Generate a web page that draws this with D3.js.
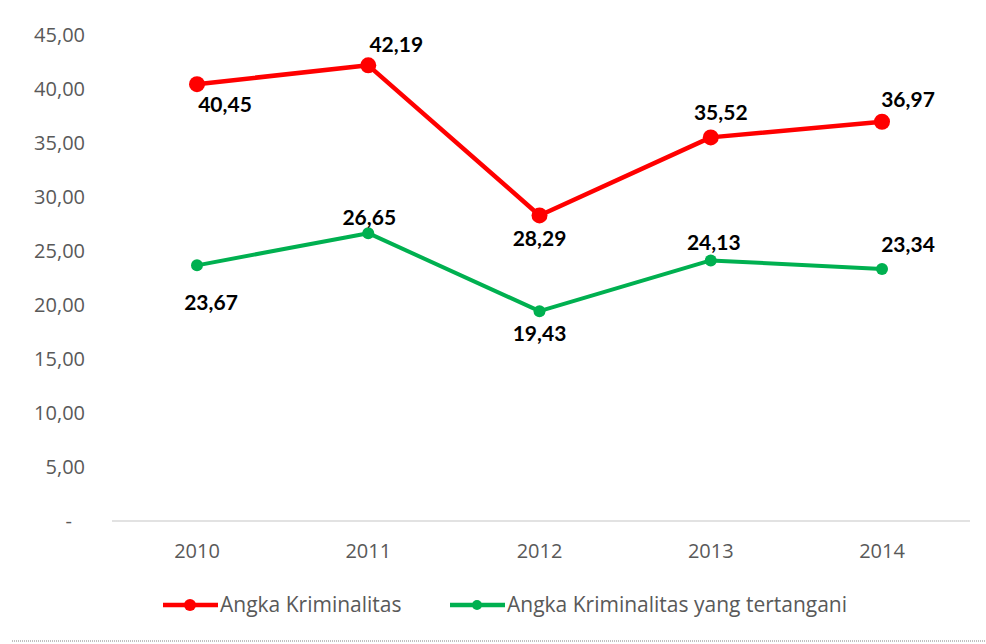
<!DOCTYPE html>
<html>
<head>
<meta charset="utf-8">
<script src="https://cdn.jsdelivr.net/npm/d3@7"></script>
<style>
  body { margin: 0; background: #fff; }
  text { font-family: "Open Sans", sans-serif; }
</style>
</head>
<body>
<div id="chart"></div>
<script>
var years = ["2010", "2011", "2012", "2013", "2014"];
var kriminalitas = [40.45, 42.19, 28.29, 35.52, 36.97];
var tertangani = [23.67, 26.65, 19.43, 24.13, 23.34];
var yTicks = [0, 5, 10, 15, 20, 25, 30, 35, 40, 45];

// manual label nudges (like the hand-placed labels in the original)
var redLabelOff = [[28, 21], [28, -21], [0, 23], [10, -25], [26, -22]];
var greenLabelOff = [[14, 37], [1, -16], [0, 22], [3, -18], [26, -24]];

var W = 986, H = 644;
var svg = d3.select("#chart").append("svg").attr("width", W).attr("height", H);

var x = d3.scalePoint().domain(years).range([197, 882]);
var y = d3.scaleLinear().domain([0, 45]).range([521, 35]);

var fmt = function (v) { return v.toFixed(2).replace(".", ","); };

// y axis labels
svg.append("g").selectAll("text").data(yTicks).enter().append("text")
  .attr("x", function (d) { return d === 0 ? 72 : 85; })
  .attr("y", function (d) { return y(d); })
  .attr("dy", "0.35em")
  .attr("text-anchor", "end")
  .attr("fill", "#595959")
  .style("font-size", "20px")
  .text(function (d) { return d === 0 ? "-" : fmt(d); });

// x axis line
svg.append("line")
  .attr("x1", 112).attr("x2", 970)
  .attr("y1", y(0)).attr("y2", y(0))
  .attr("stroke", "#d9d9d9").attr("stroke-width", 1.5);

svg.append("g").selectAll("text").data(years).enter().append("text")
  .attr("x", function (d) { return x(d); })
  .attr("y", 558)
  .attr("text-anchor", "middle")
  .attr("fill", "#595959")
  .style("font-size", "20px")
  .text(function (d) { return d; });

function drawSeries(vals, color, lw, r, offs) {
  var line = d3.line()
    .x(function (d, i) { return x(years[i]); })
    .y(function (d) { return y(d); });
  svg.append("path").datum(vals)
    .attr("d", line)
    .attr("fill", "none")
    .attr("stroke", color)
    .attr("stroke-width", lw)
    .attr("stroke-linejoin", "round");
  svg.append("g").selectAll("circle").data(vals).enter().append("circle")
    .attr("cx", function (d, i) { return x(years[i]); })
    .attr("cy", function (d) { return y(d); })
    .attr("r", r)
    .attr("fill", color);
  svg.append("g").selectAll("text").data(vals).enter().append("text")
    .attr("x", function (d, i) { return x(years[i]) + offs[i][0]; })
    .attr("y", function (d, i) { return y(d) + offs[i][1]; })
    .attr("dy", "0.35em")
    .attr("text-anchor", "middle")
    .attr("fill", "#000")
    .style("font-family", "Lato, sans-serif")
    .style("font-size", "21px")
    .style("font-weight", "bold")
    .text(function (d) { return fmt(d); });
}

drawSeries(kriminalitas, "#ff0000", 4.5, 8, redLabelOff);
drawSeries(tertangani, "#00b050", 4, 6, greenLabelOff);

// legend
var legend = [
  { name: "Angka Kriminalitas", color: "#ff0000", r: 6, x0: 163 },
  { name: "Angka Kriminalitas yang tertangani", color: "#00b050", r: 5, x0: 450 }
];
var lg = svg.append("g").selectAll("g").data(legend).enter().append("g")
  .attr("transform", function (d) { return "translate(" + d.x0 + ",605)"; });
lg.append("line").attr("x1", 0).attr("x2", 55).attr("y1", 0).attr("y2", 0)
  .attr("stroke", function (d) { return d.color; }).attr("stroke-width", 4.5);
lg.append("circle").attr("cx", 27).attr("r", function (d) { return d.r; })
  .attr("fill", function (d) { return d.color; });
lg.append("text").attr("x", 57).attr("dy", "0.35em")
  .attr("fill", "#595959").style("font-size", "21px")
  .text(function (d) { return d.name; });

// bottom dotted border
svg.append("line")
  .attr("x1", 12).attr("x2", 986).attr("y1", 641).attr("y2", 641)
  .attr("stroke", "#aaa").attr("stroke-width", 1.5)
  .attr("stroke-dasharray", "1,1");
</script>
</body>
</html>
